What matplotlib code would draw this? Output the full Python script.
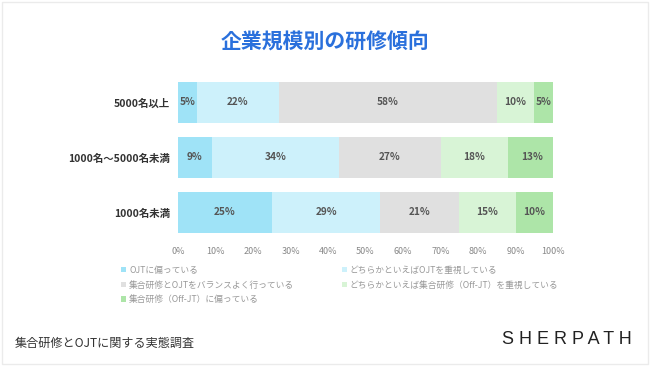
import matplotlib.pyplot as plt
from matplotlib.patches import Rectangle, Patch

plt.rcParams['font.family'] = ['Noto Sans CJK JP', 'DejaVu Sans']

# データ
groups = ['5000名以上', '1000名～5000名未満', '1000名未満']
series = ['OJTに偏っている',
          'どちらかといえばOJTを重視している',
          '集合研修とOJTをバランスよく行っている',
          'どちらかといえば集合研修（Off-JT）を重視している',
          '集合研修（Off-JT）に偏っている']
values = [
    [5, 9, 25],
    [22, 34, 29],
    [58, 27, 21],
    [10, 18, 15],
    [5, 13, 10],
]
colors = ['#9fe3f7', '#cdf1fb', '#e0e0e0', '#d8f4d6', '#ade5a8']
xticks = [0, 10, 20, 30, 40, 50, 60, 70, 80, 90, 100]

fig = plt.figure(figsize=(6.5, 3.66), dpi=100)
fig.patch.set_facecolor('white')
ax = fig.add_axes([0.2738, 0.3443, 0.577, 0.4508])

left = [0, 0, 0]
for vals, c in zip(values, colors):
    bars = ax.barh(range(len(groups)), vals, left=left, height=0.745, color=c, edgecolor='none')
    for b, v in zip(bars, vals):
        ax.text(b.get_x() + b.get_width() / 2, b.get_y() + b.get_height() / 2, f'{v}%',
                ha='center', va='center', fontsize=7.3, color='#555555', fontweight='bold')
    left = [l + v for l, v in zip(left, vals)]

ax.set_xlim(0, 100)
ax.set_ylim(2.5, -0.5)
ax.set_yticks(range(len(groups)))
ax.set_yticklabels(groups, fontsize=7.5, fontweight='bold', color='#333333')
ax.set_xticks(xticks)
ax.set_xticklabels([f'{t}%' for t in xticks], fontsize=6.5, color='#888888')
ax.tick_params(length=0, pad=6)
ax.tick_params(axis='x', pad=5)
for s in ax.spines.values():
    s.set_visible(False)

# 凡例（列方向に並ぶ）
order = [0, 2, 4, 1, 3]
handles = [Patch(facecolor=colors[i], edgecolor='none') for i in order]
labels = [series[i] for i in order]
fig.legend(handles, labels, loc='upper left', bbox_to_anchor=(0.186, 0.274), ncol=2,
           frameon=False, fontsize=6.3, labelcolor='#999999', handlelength=0.6,
           handleheight=0.6, handletextpad=0.35, columnspacing=5.4, labelspacing=0.66,
           borderpad=0, borderaxespad=0)

fig.text(0.5, 0.885, '企業規模別の研修傾向', ha='center', va='center',
         fontsize=15, fontweight='bold', color='#2a70dc')
fig.text(0.023, 0.063, '集合研修とOJTに関する実態調査', ha='left', va='center',
         fontsize=8.7, color='#333333')
fig.text(0.972, 0.072, 'S H E R P A T H', ha='right', va='center', fontsize=13,
         color='#222222', family='Liberation Sans')
fig.patches.append(Rectangle((0.003, 0.005), 0.994, 0.99, transform=fig.transFigure,
                             fill=False, edgecolor='#ebebeb', linewidth=1))

fig.savefig('out.png', dpi=100)
